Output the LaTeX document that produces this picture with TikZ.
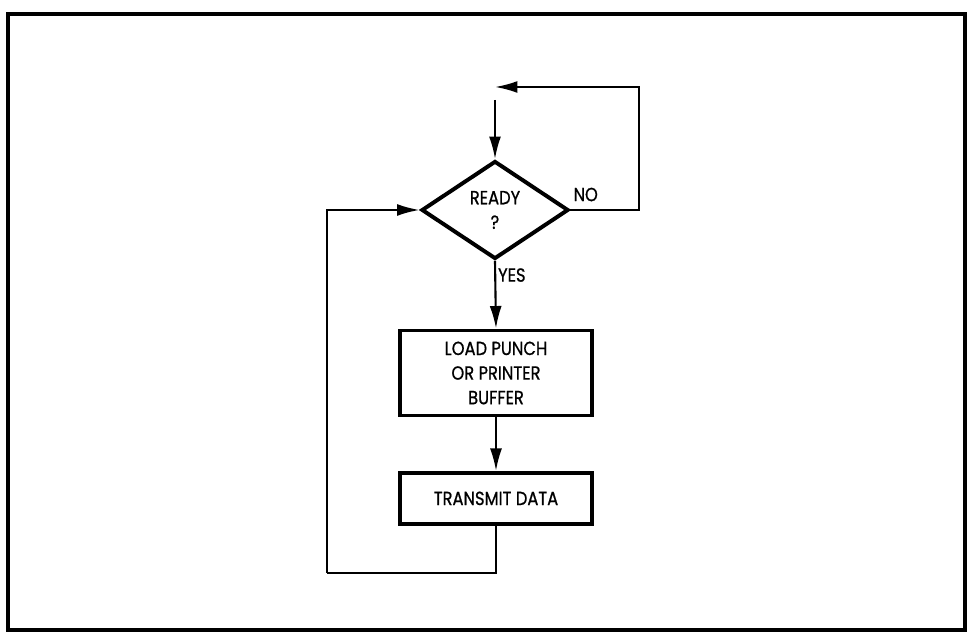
\documentclass[tikz,border=0pt]{standalone}
\usepackage{fontspec}
\setmainfont{Poppins}[FakeStretch=0.86, FakeBold=0.8]
\usetikzlibrary{shapes.geometric,arrows.meta}

\begin{document}
\begin{tikzpicture}[
    font=\fontsize{13.5}{17.5}\selectfont,
    flow/.style={line width=1.5pt, -{Latex[length=16pt,width=8.5pt]}},
    wire/.style={line width=1.5pt},
    decide/.style={diamond, draw, line width=2.8pt, inner sep=0pt,
      minimum width=3.675cm, minimum height=2.45cm, align=center},
    stepbox/.style={rectangle, draw, line width=2.8pt, minimum width=4.78cm,
      align=center}
  ]
  \useasboundingbox (0,0) rectangle (24.35,15.8);
  \draw[line width=2.6pt] (0.2,0.05) rectangle (24.12,15.45);

  \coordinate (start) at (12.375,13.3);
  \coordinate (join) at (12.375,13.625);
  \coordinate (noturn) at (15.975,13.625);
  \coordinate (backbot) at (12.4,1.475);
  \coordinate (backleft) at (8.175,1.475);

  \node[decide] (ready) at (12.375,10.55) {READY\\?};
  \node[stepbox, minimum height=2.125cm] (load) at (12.4,6.475)
    {LOAD PUNCH\\OR PRINTER\\BUFFER};
  \node[stepbox, minimum height=1.275cm] (send) at (12.4,3.34) {TRANSMIT DATA};

  \draw[flow] (start) -- (ready.north);
  \draw[flow] (ready.east) -| (noturn) -- (join);
  \draw[flow] (ready.south) -- (load.north);
  \draw[flow] (load.south) -- (send.north);
  \draw[wire] (send.south) -- (backbot) -- (backleft);
  \draw[flow] (backleft) |- (ready.west);

  \node[above right, inner sep=2pt, yshift=4pt] (no) at (ready.east) {NO};
  \node[below right, inner sep=2pt, yshift=-3pt] (yes) at (ready.south) {YES};
\end{tikzpicture}
\end{document}
